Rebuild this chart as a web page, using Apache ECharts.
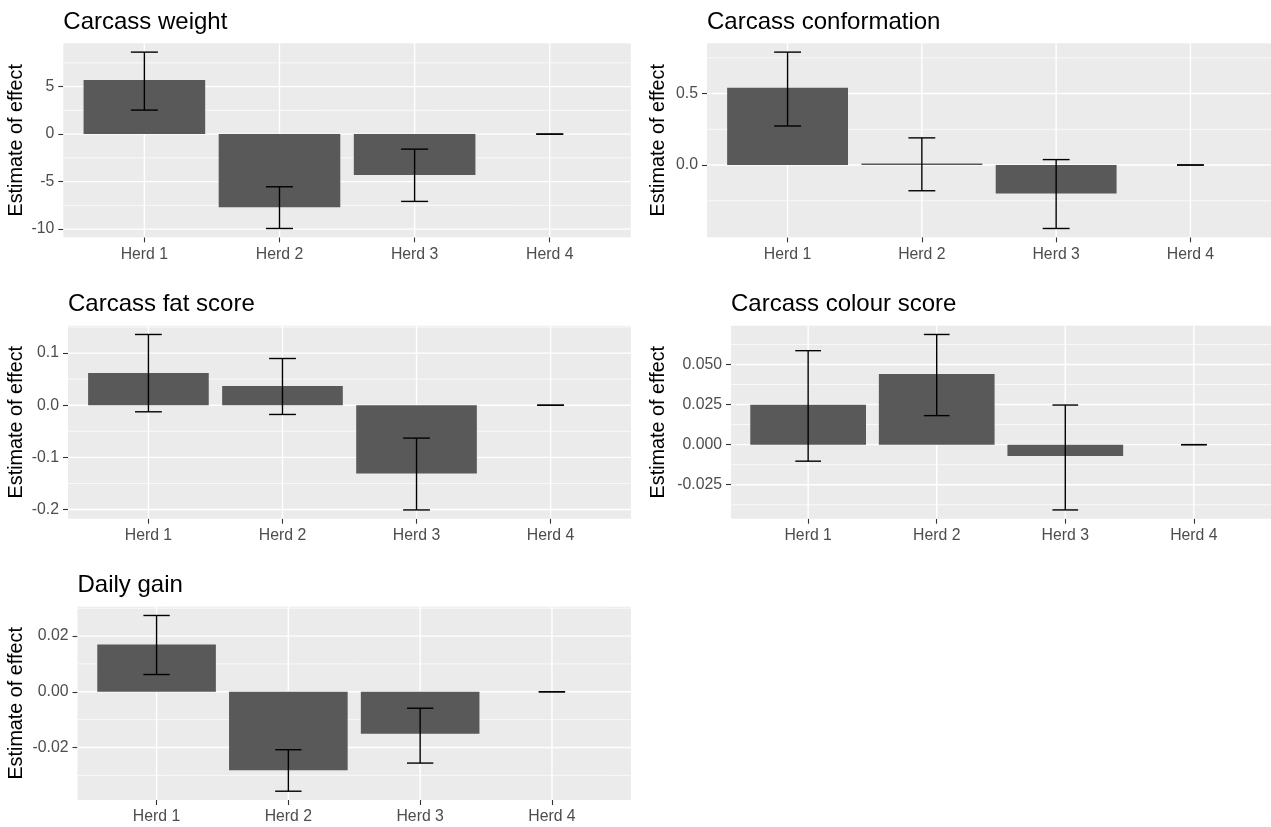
<!doctype html>
<html lang="en">
<head>
<meta charset="UTF-8">
<title>Herd effects</title>
<script src="https://cdn.jsdelivr.net/npm/echarts@6.0.0/dist/echarts.min.js"></script>
<style>html, body { margin: 0; padding: 0; background: #fff; }</style>
</head>
<body>
<div id="main" style="width: 1271px; height: 827px;"></div>
<script>
const herds = ['Herd 1', 'Herd 2', 'Herd 3', 'Herd 4'];
const herdPos = [1, 2, 3, 4];

// Carcass weight
const weightEst = [5.7, -7.7, -4.3, 0];
const weightLow = [2.53, -9.93, -7.08, 0];
const weightHigh = [8.63, -5.54, -1.58, 0];
const weightTicks = [-10, -5, 0, 5];
const weightLabels = ['-10', '-5', '0', '5'];

// Carcass conformation
const confEst = [0.54, 0.01, -0.2, 0];
const confLow = [0.273, -0.18, -0.444, 0];
const confHigh = [0.79, 0.19, 0.038, 0];
const confTicks = [0, 0.5];
const confLabels = ['0.0', '0.5'];

// Carcass fat score
const fatEst = [0.062, 0.037, -0.131, 0];
const fatLow = [-0.0126, -0.0177, -0.2008, 0];
const fatHigh = [0.1357, 0.0896, -0.063, 0];
const fatTicks = [-0.2, -0.1, 0, 0.1];
const fatLabels = ['-0.2', '-0.1', '0.0', '0.1'];

// Carcass colour score
const colourEst = [0.0249, 0.044, -0.007, 0];
const colourLow = [-0.0103, 0.0181, -0.0407, 0];
const colourHigh = [0.0586, 0.0687, 0.0247, 0];
const colourTicks = [-0.025, 0, 0.025, 0.05];
const colourLabels = ['-0.025', '0.000', '0.025', '0.050'];

// Daily gain
const gainEst = [0.017, -0.0282, -0.0151, 0];
const gainLow = [0.0062, -0.0357, -0.0256, 0];
const gainHigh = [0.0274, -0.0208, -0.0059, 0];
const gainTicks = [-0.02, 0, 0.02];
const gainLabels = ['-0.02', '0.00', '0.02'];

const panels = [
	{ title: 'Carcass weight', est: weightEst, low: weightLow, high: weightHigh, ticks: weightTicks, labels: weightLabels,
		left: 63.3, top: 43.3, width: 567.5, height: 194, nameX: 16.5 },
	{ title: 'Carcass conformation', est: confEst, low: confLow, high: confHigh, ticks: confTicks, labels: confLabels,
		left: 707, top: 43.3, width: 566, height: 194, nameX: 658.5 },
	{ title: 'Carcass fat score', est: fatEst, low: fatLow, high: fatHigh, ticks: fatTicks, labels: fatLabels,
		left: 68, top: 325.7, width: 563, height: 193, nameX: 16.5 },
	{ title: 'Carcass colour score', est: colourEst, low: colourLow, high: colourHigh, ticks: colourTicks, labels: colourLabels,
		left: 731, top: 325.7, width: 544, height: 193, nameX: 658.5 },
	{ title: 'Daily gain', est: gainEst, low: gainLow, high: gainHigh, ticks: gainTicks, labels: gainLabels,
		left: 77.5, top: 606.7, width: 553.5, height: 193.3, nameX: 16.5 }
];

const font = '"Liberation Sans", Arial, sans-serif';
const tickStyle = { color: '#333333', width: 1.1 };

// white panel grid, drawn under the bars
function gridLines(params, api) {
	const cs = params.coordSys;
	const kind = api.value(0), v = api.value(1);
	if (kind === 2) {
		const x = api.coord([v, 0])[0];
		return { type: 'line', shape: { x1: x, y1: cs.y, x2: x, y2: cs.y + cs.height },
			style: { stroke: '#ffffff', lineWidth: 1.4 } };
	}
	const y = api.coord([1, v])[1];
	return { type: 'line', shape: { x1: cs.x, y1: y, x2: cs.x + cs.width, y2: y },
		style: { stroke: '#ffffff', lineWidth: kind === 0 ? 1.4 : 0.7 } };
}

function barWithError(params, api) {
	const x = api.value(0), est = api.value(1), lo = api.value(2), hi = api.value(3);
	const a = api.coord([x - 0.45, est]), b = api.coord([x + 0.45, 0]);
	const top = api.coord([x, hi]), bot = api.coord([x, lo]);
	const cl = api.coord([x - 0.1, hi])[0], cr = api.coord([x + 0.1, hi])[0];
	const err = { stroke: '#000000', lineWidth: 1.4 };
	return {
		type: 'group',
		children: [
			{ type: 'rect', shape: { x: a[0], y: Math.min(a[1], b[1]), width: b[0] - a[0], height: Math.abs(b[1] - a[1]) },
				style: { fill: '#595959' } },
			{ type: 'line', shape: { x1: top[0], y1: top[1], x2: bot[0], y2: bot[1] }, style: err },
			{ type: 'line', shape: { x1: cl, y1: top[1], x2: cr, y2: top[1] }, style: err },
			{ type: 'line', shape: { x1: cl, y1: bot[1], x2: cr, y2: bot[1] }, style: err }
		]
	};
}

let grid = [], xAxis = [], yAxis = [], series = [], title = [];
panels.forEach((p, i) => {
	// ggplot style 5% expansion around the data
	const lo = Math.min(0, ...p.low, ...p.est);
	const hi = Math.max(0, ...p.high, ...p.est);
	const pad = (hi - lo) * 0.05;
	const yMin = lo - pad, yMax = hi + pad;

	grid.push({ left: p.left, top: p.top, width: p.width, height: p.height,
		show: true, backgroundColor: '#EBEBEB', borderWidth: 0 });
	title.push({ text: p.title, left: p.left, top: p.top - 33, padding: 0,
		textStyle: { fontFamily: font, fontSize: 24, fontWeight: 'normal', color: '#000000' } });
	xAxis.push({
		type: 'value', gridIndex: i, min: 0.4, max: 4.6,
		splitLine: { show: false },
		axisLine: { show: false, onZero: false },
		axisTick: { show: true, customValues: herdPos, length: 5, lineStyle: tickStyle },
		axisLabel: { customValues: herdPos, formatter: v => herds[Math.round(v) - 1],
			color: '#4D4D4D', fontSize: 15.8, fontFamily: font, margin: 9 }
	});
	yAxis.push({
		type: 'value', gridIndex: i, min: yMin, max: yMax,
		name: 'Estimate of effect', nameLocation: 'middle', nameGap: p.left - p.nameX - 10,
		nameTextStyle: { fontFamily: font, fontSize: 19.8, color: '#000000' },
		splitLine: { show: false },
		axisLine: { show: false, onZero: false },
		axisTick: { show: true, customValues: p.ticks, length: 5, lineStyle: tickStyle },
		axisLabel: {
			customValues: p.ticks,
			formatter: v => {
				const k = p.ticks.findIndex(t => Math.abs(t - v) < 1e-9);
				return k >= 0 ? p.labels[k] : '';
			},
			color: '#4D4D4D', fontSize: 15.8, fontFamily: font, margin: 9
		}
	});

	const step = p.ticks[1] - p.ticks[0];
	let lines = [];
	p.ticks.forEach(t => lines.push([0, t]));
	for (let k = -1; k < p.ticks.length; k++) {
		const m = p.ticks[0] + (k + 0.5) * step;
		if (m > yMin && m < yMax) lines.push([1, m]);
	}
	herdPos.forEach(x => lines.push([2, x]));
	series.push({ type: 'custom', xAxisIndex: i, yAxisIndex: i, z: 1, silent: true,
		data: lines, renderItem: gridLines });
	series.push({ type: 'custom', xAxisIndex: i, yAxisIndex: i, z: 3,
		data: herdPos.map((x, j) => [x, p.est[j], p.low[j], p.high[j]]), renderItem: barWithError });
});

let mChart = echarts.init(document.getElementById('main'));
mChart.setOption({
	animation: false,
	title: title,
	grid: grid,
	xAxis: xAxis,
	yAxis: yAxis,
	series: series
});
</script>
</body>
</html>
